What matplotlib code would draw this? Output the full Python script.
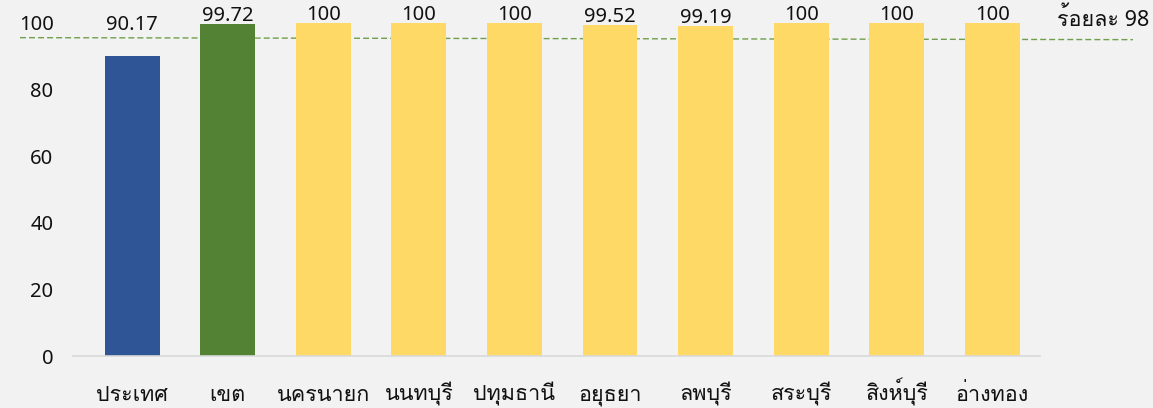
import numpy as np
import matplotlib
matplotlib.use('Agg')
import matplotlib.pyplot as plt
from matplotlib import font_manager
from matplotlib.ft2font import FT2Font
from matplotlib.transforms import blended_transform_factory

# categories and values
categories = ['ประเทศ', 'เขต', 'นครนายก', 'นนทบุรี', 'ปทุมธานี',
              'อยุธยา', 'ลพบุรี', 'สระบุรี', 'สิงห์บุรี', 'อ่างทอง']
values = [90.17, 99.72, 100, 100, 100, 99.52, 99.19, 100, 100, 100]
value_labels = ['90.17', '99.72', '100', '100', '100', '99.52', '99.19', '100', '100', '100']
target_label = 'ร้อยละ 98'
target_level = [95.6, 95.0]   # dashed line as drawn in the picture (left, right end)
yticks = [0, 20, 40, 60, 80, 100]


# find an installed font with thai glyphs
def find_thai_font():
    for f in font_manager.fontManager.ttflist:
        try:
            cmap = FT2Font(f.fname).get_charmap()
        except Exception:
            continue
        if 0x0E01 in cmap and 0x0E1B in cmap:
            return f.name
    return None


thai = find_thai_font()
fams = ['Noto Sans', thai, 'DejaVu Sans'] if thai else ['Noto Sans', 'DejaVu Sans']
plt.rcParams['font.family'] = fams

colors = ['#2f5597', '#548235'] + ['#ffd966'] * 8
bg = '#f2f2f2'
txt = '#111111'

fig = plt.figure(figsize=(11.53, 4.08), dpi=100, facecolor=bg)
ax = fig.add_axes([73 / 1153, 1 - 356 / 408, (1040 - 73) / 1153, (356 - 23) / 408])
ax.set_facecolor(bg)

x = np.arange(len(categories))
ax.bar(x, values, width=0.575, color=colors, zorder=2)

for xi, v, lab in zip(x, values, value_labels):
    # the first label sits higher in the original
    y = v + 7.7 if xi == 0 else v + 0.8
    ax.text(xi, y, lab, ha='center', va='baseline', fontsize=14.5, color=txt)

ax.set_xlim(-0.62, 9.5)
ax.set_ylim(0, 100)
ax.set_yticks(yticks)
ax.set_yticklabels([str(t) for t in yticks], fontsize=14.5, color=txt)
ax.set_xticks(x)
ax.set_xticklabels([])
ax.tick_params(axis='both', length=0)
ax.tick_params(axis='y', pad=14)

# category names on a common baseline
trans = blended_transform_factory(ax.transData, fig.transFigure)
for xi, c in zip(x, categories):
    ax.text(xi, 1 - 401 / 408, c, transform=trans, ha='center', va='baseline',
            fontsize=15.5, color=txt)

for s in ['top', 'right', 'left']:
    ax.spines[s].set_visible(False)
ax.spines['bottom'].set_color('#d9d9d9')
ax.spines['bottom'].set_linewidth(1.2)

# dashed target line, runs past the plot area
x_left = -0.62 - (73 - 20) / 95.6
x_right = 9.5 + (1133 - 1040) / 95.6
ax.plot([x_left, x_right], target_level, ls=(0, (4.3, 2.2)),
        color='#6f9f4c', lw=1.0, clip_on=False, zorder=1)
ax.text(9.5 + 17 / 95.6, 99.1, target_label, ha='left', va='baseline', fontsize=15.5,
        color=txt, clip_on=False)

fig.savefig('out.png', dpi=100, facecolor=bg)
